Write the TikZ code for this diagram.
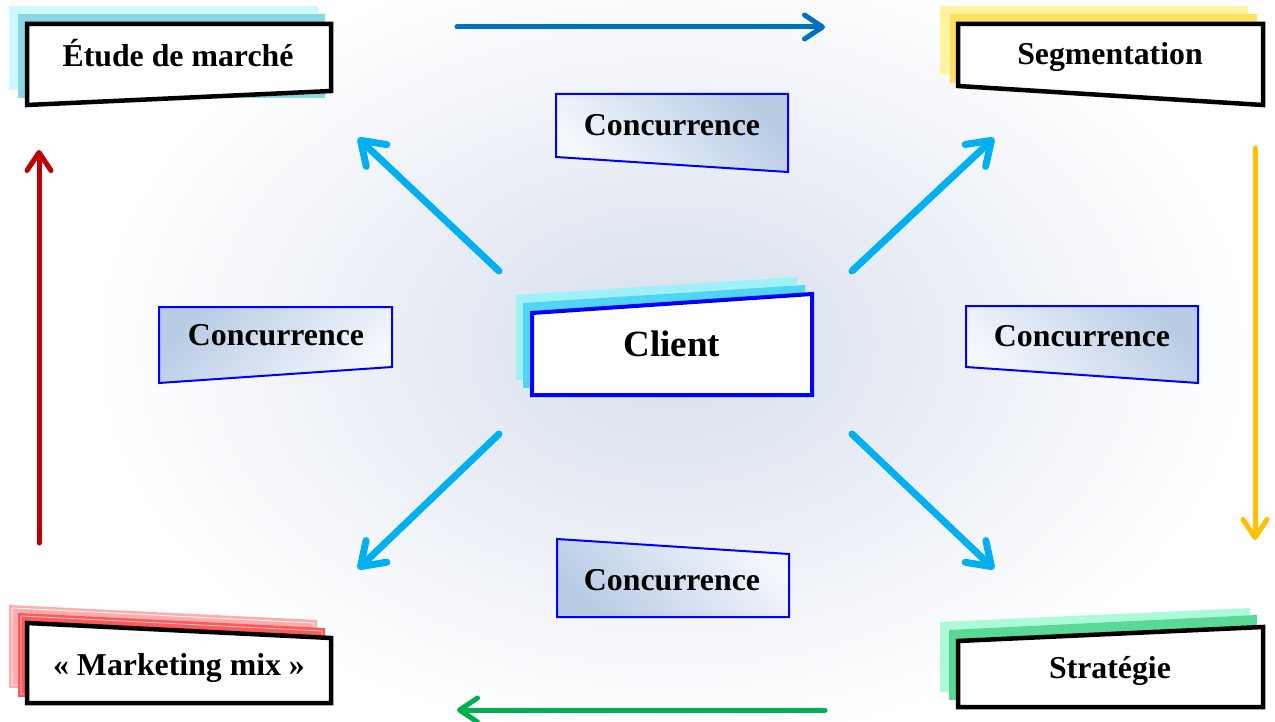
\documentclass[tikz,border=0pt]{standalone}
\usepackage{fontspec}
\setmainfont{Liberation Serif}
\usetikzlibrary{arrows.meta}

\definecolor{bgc}{RGB}{214,222,236}
\definecolor{concdark}{RGB}{184,204,228}
\definecolor{conclight}{RGB}{244,247,252}
\definecolor{concborder}{RGB}{0,0,255}
\definecolor{cyanA}{RGB}{204,250,253}
\definecolor{cyanB}{RGB}{140,214,228}
\definecolor{yelA}{RGB}{255,244,160}
\definecolor{yelB}{RGB}{255,224,100}
\definecolor{cliA}{RGB}{160,240,248}
\definecolor{cliB}{RGB}{82,212,245}
\definecolor{redA}{RGB}{255,172,172}
\definecolor{redB}{RGB}{255,88,88}
\definecolor{grnA}{RGB}{172,250,216}
\definecolor{grnB}{RGB}{90,216,150}
\definecolor{arrBlue}{RGB}{0,112,192}
\definecolor{arrOrange}{RGB}{255,192,0}
\definecolor{arrGreen}{RGB}{0,176,80}
\definecolor{arrRed}{RGB}{192,0,0}
\definecolor{arrCyan}{RGB}{0,176,240}

\begin{document}
\begin{tikzpicture}[x=1pt,y=-1pt,
  frame/.style={draw=black, line width=4.5pt, fill=white, line join=miter},
  clientframe/.style={draw=concborder, line width=4pt, fill=white, line join=miter},
  lbl/.style={font=\fontsize{31.8}{36}\selectfont\bfseries, inner sep=0pt, anchor=base},
  biglbl/.style={font=\fontsize{37}{42}\selectfont\bfseries, inner sep=0pt, anchor=base},
  concbox/.style={draw=concborder, line width=2pt, top color=conclight, bottom color=concdark},
  flow/.style={line width=5pt, line cap=round,
    -{Straight Barb[length=18pt,width=24pt,line cap=round,line join=round]}},
  radial/.style={line width=7pt, color=arrCyan, line cap=round,
    -{Straight Barb[length=22pt,width=30pt,line cap=round,line join=round]}}]

\useasboundingbox (0,0) rectangle (1275,722);

% soft background glow
\begin{scope}
  \clip (0,0) rectangle (1275,722);
  \fill[white] (0,0) rectangle (1275,722);
  \shade[inner color=bgc, outer color=white] (672,345) ellipse (580 and 400);
\end{scope}

% ---- corner boxes ----
% Étude de marché
\fill[cyanA] (9,6) rectangle (318,90);
\fill[cyanB] (18,14) rectangle (325,98);
\draw[frame] (27,24) -- (331,24) -- (331,91) -- (27,105) -- cycle;
\node[lbl] (etude) at (178,67) {Étude de marché};

% Segmentation
\fill[yelA] (940,6) rectangle (1248,75);
\fill[yelB] (950,14) rectangle (1257,83);
\draw[frame] (958,24) -- (1263,24) -- (1263,105) -- (958,86) -- cycle;
\node[lbl] (segm) at (1110,65) {Segmentation};

% Marketing mix
\fill[redA] (9,605) -- (317,620) -- (317,680) -- (9,688) -- cycle;
\draw[white, line width=0.8pt] (12,608) -- (314,623) -- (314,677) -- (12,685) -- cycle;
\fill[redB] (18,613) -- (325,628) -- (325,690) -- (18,697) -- cycle;
\draw[white!70!redB, line width=0.8pt] (21,616) -- (322,631) -- (322,687) -- (21,694) -- cycle;
\draw[frame] (27,623) -- (331,638) -- (331,703) -- (27,703) -- cycle;
\node[lbl] (mix) at (179,675) {« Marketing mix »};

% Stratégie
\fill[grnA] (940,622) -- (1250,608) -- (1250,680) -- (940,692) -- cycle;
\fill[grnB] (949,630) -- (1257,615) -- (1257,690) -- (949,700) -- cycle;
\draw[frame] (958,641) -- (1263,627) -- (1263,707) -- (958,707) -- cycle;
\node[lbl] (strat) at (1110,678) {Stratégie};

% ---- centre ----
\fill[cliA] (516,295) -- (797,277) -- (797,372) -- (516,380) -- cycle;
\fill[cliB] (523,303) -- (805,285) -- (805,382) -- (523,388) -- cycle;
\draw[clientframe] (532,313) -- (812,294) -- (812,395) -- (532,395) -- cycle;
\node[biglbl] (client) at (672,356) {Client};

% ---- competition boxes: the darker tint sits in one corner of each ----
\draw[concbox, shading angle=135] (556,94) -- (788,94) -- (788,172) -- (556,157) -- cycle;
\node[lbl] (concT) at (672,136) {Concurrence};

\draw[concbox, shading angle=-135] (159,307) -- (392,307) -- (392,367) -- (159,383) -- cycle;
\node[lbl] (concL) at (276,345) {Concurrence};

\draw[concbox, shading angle=135] (966,306) -- (1198,306) -- (1198,383) -- (966,367) -- cycle;
\node[lbl] (concR) at (1082,346) {Concurrence};

\draw[concbox, shading angle=-45] (557,539) -- (789,554) -- (789,617) -- (557,617) -- cycle;
\node[lbl] (concB) at (672,590) {Concurrence};

% ---- cycle arrows ----
\coordinate (topS) at (457,27);   \coordinate (topE) at (825,27);
\coordinate (rgtS) at (1255,148); \coordinate (rgtE) at (1255,540);
\coordinate (botS) at (825,710);  \coordinate (botE) at (457,710);
\coordinate (lftS) at (39,543);   \coordinate (lftE) at (39,150);
\draw[flow, arrBlue] (topS) -- (topE);
\draw[flow, arrOrange] (rgtS) -- (rgtE);
\draw[flow, arrGreen] (botS) -- (botE);
\draw[flow, arrRed] (lftS) -- (lftE);

% ---- radial arrows from the client ----
\coordinate (ulS) at (499,271); \coordinate (ulE) at (358,138);
\coordinate (urS) at (852,271); \coordinate (urE) at (994,138);
\coordinate (llS) at (499,434); \coordinate (llE) at (358,569);
\coordinate (lrS) at (852,434); \coordinate (lrE) at (994,569);
\draw[radial] (ulS) -- (ulE);
\draw[radial] (urS) -- (urE);
\draw[radial] (llS) -- (llE);
\draw[radial] (lrS) -- (lrE);
\end{tikzpicture}
\end{document}
